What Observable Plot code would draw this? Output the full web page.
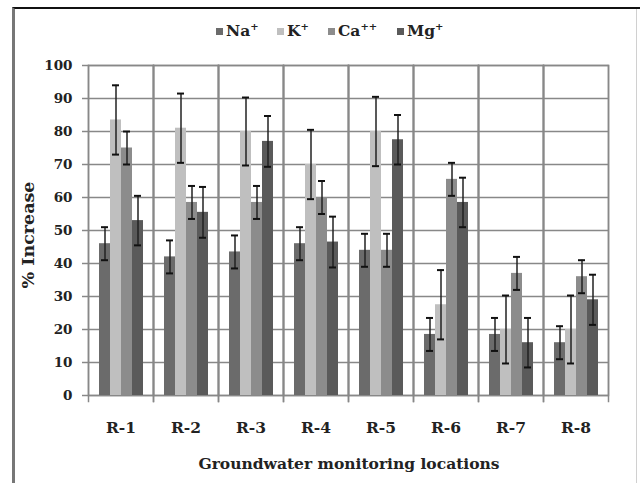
<!DOCTYPE html>
<html><head><meta charset="utf-8">
<script src="https://cdn.jsdelivr.net/npm/d3@7"></script>
<script src="https://cdn.jsdelivr.net/npm/@observablehq/plot@0.6"></script>
<style>
body{margin:0;background:#fff;}
#wrap{position:relative;width:640px;height:483px;overflow:hidden;font-family:"DejaVu Serif",serif;font-weight:bold;color:#222;}
#wrap svg{position:absolute;left:0;top:0;}
#border{position:absolute;left:12px;top:7px;width:640px;height:480px;border-top:2px solid #111;border-left:3px solid #777;box-sizing:border-box;}
#rborder{position:absolute;left:636px;top:9px;width:1px;height:474px;background:#d0d0d0;}
.leg{position:absolute;top:23px;font-size:15.5px;line-height:16px;white-space:nowrap;}
.leg i{display:inline-block;width:7px;height:7px;margin-right:3px;vertical-align:1px;}
.leg sup{font-size:10px;vertical-align:6px;line-height:0;}
#ytitle{position:absolute;left:28px;top:235px;transform:translate(-50%,-50%) rotate(-90deg);font-size:17.5px;white-space:nowrap;}
#xtitle{position:absolute;left:349px;top:463px;transform:translate(-50%,-50%);font-size:15.5px;white-space:nowrap;}
</style>
</head><body>
<div id="wrap">
<div id="border"></div><div id="rborder"></div>
<div id="legendbox"></div>
<div id="ytitle">% Increase</div>
<div id="xtitle">Groundwater monitoring locations</div>
</div>
<script>
const locations = ["R-1","R-2","R-3","R-4","R-5","R-6","R-7","R-8"];
const ions = ["Na", "K", "Ca", "Mg"];
const ionSup = ["+", "+", "++", "+"];
const colors = ["#6b6b6b", "#bfbfbf", "#8c8c8c", "#5a5a5a"];
const na = [46, 42, 43.5, 46, 44, 18.5, 18.5, 16];
const k  = [83.5, 81, 80, 70, 80, 27.5, 20, 20];
const ca = [75, 58.5, 58.5, 60, 44, 65.5, 37, 36];
const mg = [53, 55.5, 77, 46.5, 77.5, 58.5, 16, 29];
const naErr = [5, 5, 5, 5, 5, 5, 5, 5];
const kErr  = [10.5, 10.5, 10.3, 10.5, 10.5, 10.5, 10.3, 10.3];
const caErr = [5, 5, 5, 5, 5, 5, 5, 5];
const mgErr = [7.5, 7.7, 7.7, 7.7, 7.5, 7.5, 7.5, 7.6];
const yTicks = [0,10,20,30,40,50,60,70,80,90,100];

const series = [na, k, ca, mg];
const errs = [naErr, kErr, caErr, mgErr];
const data = [];
locations.forEach((loc, i) => {
  ions.forEach((ion, j) => {
    data.push({loc, ion, value: series[j][i], err: errs[j][i]});
  });
});

const font = {fontFamily: "DejaVu Serif", fontWeight: "bold", fontSize: "13.5px", color: "#222", background: "transparent"};

const chart = Plot.plot({
  width: 640, height: 483,
  marginLeft: 88, marginRight: 32, marginTop: 65, marginBottom: 88,
  style: font,
  fx: {domain: locations, padding: 0},
  x: {domain: ions, paddingInner: 0, paddingOuter: 0.77, axis: null},
  y: {domain: [0, 100]},
  color: {domain: ions, range: colors},
  marks: [
    Plot.gridY(yTicks, {stroke: "#888", strokeOpacity: 1, strokeWidth: 1.5}),
    Plot.frame({stroke: "#888", strokeWidth: 1.5}),
    Plot.frame({anchor: "left", stroke: "#888", strokeWidth: 1.5, insetBottom: -6}),
    Plot.frame({anchor: "right", stroke: "#888", strokeWidth: 1.5, insetBottom: -6}),
    Plot.barY(data, {fx: "loc", x: "ion", y: "value", fill: "ion"}),
    Plot.ruleX(data, {fx: "loc", x: "ion", y1: d => d.value - d.err, y2: d => d.value + d.err, stroke: "#222", strokeWidth: 1.5}),
    Plot.tickY(data, {fx: "loc", x: "ion", y: d => d.value + d.err, stroke: "#111", strokeWidth: 2, insetLeft: 2, insetRight: 2}),
    Plot.tickY(data, {fx: "loc", x: "ion", y: d => d.value - d.err, stroke: "#111", strokeWidth: 2, insetLeft: 2, insetRight: 2}),
    Plot.axisY({ticks: yTicks, tickSize: 6, tickPadding: 10, label: null, stroke: "#888", strokeWidth: 1.5}),
    Plot.axisFx({anchor: "bottom", tickSize: 0, tickPadding: 26, label: null, fontSize: 15.5})
  ]
});
const wrap = document.getElementById("wrap");
wrap.insertBefore(chart, wrap.firstChild);

const legX = [216, 277, 328, 397];
const lb = document.getElementById("legendbox");
ions.forEach((ion, j) => {
  const s = document.createElement("div");
  s.className = "leg";
  s.style.left = legX[j] + "px";
  s.innerHTML = `<i style="background:${colors[j]}"></i>${ion}<sup>${ionSup[j]}</sup>`;
  lb.appendChild(s);
});
</script>
</body></html>
